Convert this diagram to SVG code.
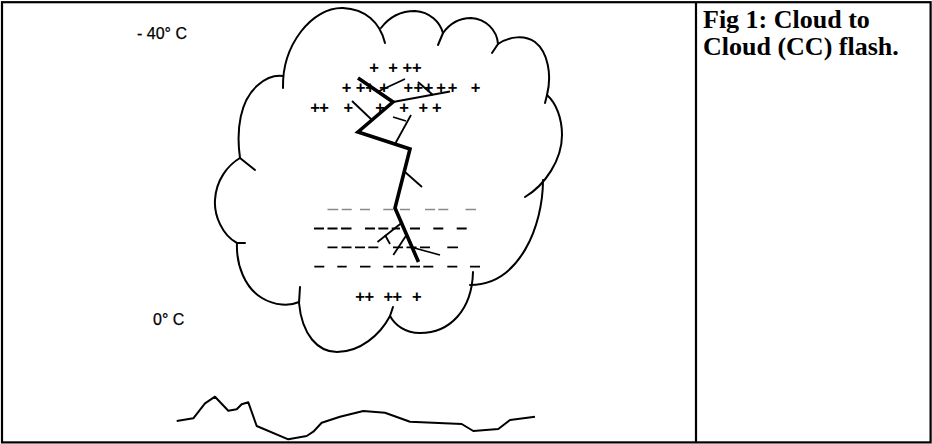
<svg xmlns="http://www.w3.org/2000/svg" width="932" height="444" viewBox="0 0 932 444">
<style>
.frame{fill:none;stroke:#000;stroke-width:2.2}
.cloud{fill:none;stroke:#000;stroke-width:2;stroke-linecap:round;stroke-linejoin:round}
.bolt{fill:none;stroke:#000;stroke-width:3.6;stroke-linecap:butt;stroke-linejoin:miter}
.branch{fill:none;stroke:#000;stroke-width:1.8;stroke-linecap:butt}
.dashg{fill:none;stroke:#8a8a8a;stroke-width:1.6}
.dash{fill:none;stroke:#000;stroke-width:1.8}
.plus{font-family:"Liberation Sans",Arial,sans-serif;font-size:16.5px;font-weight:bold;fill:#000;text-anchor:middle}
.lbl{font-family:"Liberation Sans",Arial,sans-serif;font-size:16px;fill:#000;stroke:#000;stroke-width:0.25}
.cap{font-family:"Liberation Serif","Times New Roman",serif;font-size:26px;font-weight:bold;fill:#000}
.ground{fill:none;stroke:#000;stroke-width:2;stroke-linejoin:round}
</style>
<rect width="932" height="444" fill="#fff"/>
<g id="frame">
<rect class="frame" x="2" y="2.2" width="928.6" height="440.2"/>
<line class="frame" x1="696" y1="2" x2="696" y2="442.5"/>
</g>
<g id="cloud">
<path class="cloud" d="M283,88 C282,45 312,7 343,8 C365,9 380,22 385,43"/>
<path class="cloud" d="M381,28 C390,16 402,11 415,11 C430,12 440,22 443,33"/>
<path class="cloud" d="M438,45 L443,33 C451,22 461,18 471,18 C486,19 497,30 498,44 L492,53"/>
<path class="cloud" d="M498,44 C510,36 525,35 535,42 C548,52 552,75 547,95 L545,103"/>
<path class="cloud" d="M547,95 C556,103 562,118 562,135 C562,160 545,185 525,197"/>
<path class="cloud" d="M543,180 C543,225 520,285 470,285"/>
<path class="cloud" d="M473,272 C472,310 450,333 420,333 C405,333 395,325 390,316"/>
<path class="cloud" d="M393,307 L390,316 C380,335 360,352 337,352 C318,352 302,335 299,303 L300,287"/>
<path class="cloud" d="M299,302 C290,306 275,306 262,298 C245,288 236,265 237,243 L245,243"/>
<path class="cloud" d="M237,243 C222,235 214,215 215,200 C216,180 228,165 240,158 L255,170"/>
<path class="cloud" d="M240,158 C236,130 240,100 258,85 C266,78 275,75 283,76"/>
</g>
<g id="charges">
<text class="plus" x="374 393 407.3 416.7" y="73">++++</text>
<text class="plus" x="346.5 360.5 370 384 408.3 418.3 428.5 441 452.5 475.5" y="92.5">++++++++++</text>
<text class="plus" x="315 324 348.3 380 404 423.3 436.7" y="112.5">+++++++</text>
<text class="plus" x="360 369.3 388.3 397.3 416.7" y="301.5">+++++</text>
</g>
<g id="negative-layer">
<path class="dashg" d="M327.5,209.5H338.3M341.7,209.5H351.7M360,209.5H370M383.3,209.5H393.3M400,209.5H410M425,209.5H435M438.3,209.5H448.3M465.5,209.5H476"/>
<path class="dash" d="M314,228.5H324M327.5,228.5H337.5M341,228.5H351.5M365,228.5H375M378.3,228.5H388.3M391.7,228.5H400M410,228.5H420M433.3,228.5H443.3M456.7,228.5H466.7"/>
<path class="dash" d="M327.5,247.3H337.5M341.5,247.3H351.5M355,247.3H365M368.3,247.3H378.3M393,247.3H403M406.5,247.3H416.5M420,247.3H430M447.3,247.3H458"/>
<path class="dash" d="M314.3,266.7H324.3M337.3,266.7H346.7M360,266.7H370.5M383.3,266.7H393.3M396.5,266.7H406.5M410,266.7H420M423.3,266.7H433.3M447.3,266.7H457.3M470,266.7H480"/>
</g>
<g id="lightning">
<path class="bolt" d="M358,78 L393,102 L358,132 L410,149 L395,208 L418.5,262"/>
<path class="branch" d="M393,102 L450,91.5"/>
<path class="branch" d="M377,92 L405,79"/>
<path class="branch" d="M418,82 L433,95"/>
<path class="branch" d="M352,101 L372,120"/>
<path class="branch" d="M411,115 L395,144"/>
<path class="branch" d="M393,117 L406,121"/>
<path class="branch" d="M405,172 L422,187"/>
<path class="branch" d="M401.5,223 L377.5,242"/>
<path class="branch" d="M385,235 L390,244"/>
<path class="branch" d="M406.5,235 L393.3,255"/>
<path class="branch" d="M412.5,247.5 L440,255"/>
</g>
<g id="labels">
<text class="lbl" x="137" y="39">- 40° C</text>
<text class="lbl" x="153" y="325">0° C</text>
</g>
<g id="ground">
<path class="ground" d="M176.7,421 L193.3,418.3 L205,403.3 L215,396.7 L228.3,410.7 L236.7,409.3 L241.7,404.3 L248.3,402.3 L256.7,426 L288.3,439.3 L306.7,436 L313.3,431.7 L321.7,422.7 L340,416.7 L363.3,411 L385,412.7 L410,421.7 L461.7,424 L473.3,431 L498.3,429 L510,420 L535,416.7"/>
</g>
<g id="caption">
<text class="cap" x="703" y="28">Fig 1: Cloud to</text>
<text class="cap" x="703" y="55">Cloud (CC) flash.</text>
</g>
</svg>
